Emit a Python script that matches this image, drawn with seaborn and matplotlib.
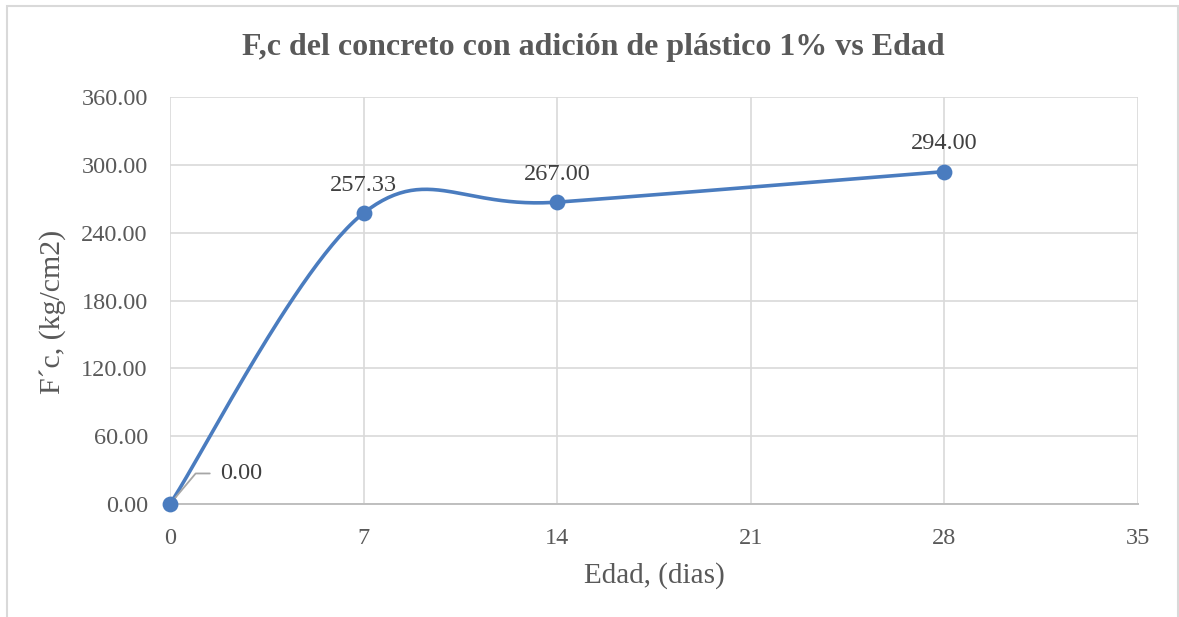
import numpy as np
import pandas as pd
import matplotlib
matplotlib.use("Agg")
import matplotlib.pyplot as plt
import seaborn as sns

# Compressive strength of concrete with 1% plastic addition
edad = [0, 7, 14, 28]
fc = [0.00, 257.33, 267.00, 294.00]
x_ticks = [0, 7, 14, 21, 28, 35]
y_ticks = [0, 60, 120, 180, 240, 300, 360]

title = "F,c del concreto con adición de plástico 1% vs Edad"
xlabel = "Edad, (dias)"
ylabel = "F´c, (kg/cm2)"

BLUE = "#4A7CBF"
TEXT = "#595959"
LABEL = "#404040"
GRID = "#D9D9D9"

sns.set_theme(style="white")
plt.rcParams["font.family"] = ["Liberation Serif", "DejaVu Serif"]

fig = plt.figure(figsize=(11.79, 6.17), dpi=100)
ax = fig.add_axes([0.1442, 0.1831, 0.8210, 0.6597])
ax.set_xlim(0, 35)
ax.set_ylim(0, 360)


def smooth_curve(xs, ys, sx, sy, n=60):
    """Bezier smoothing through the points (Excel-style), computed in display-like units."""
    px = np.asarray(xs, float) * sx
    py = np.asarray(ys, float) * sy
    pts = np.column_stack([px, py])
    out = []
    m = len(pts)
    for i in range(m - 1):
        p0 = pts[i - 1] if i > 0 else pts[i]
        p1 = pts[i]
        p2 = pts[i + 1]
        p3 = pts[i + 2] if i + 2 < m else pts[i + 1]
        c1 = p1 + (p2 - p0) / 6.0
        c2 = p2 - (p3 - p1) / 6.0
        t = np.linspace(0, 1, n)[:, None]
        seg = ((1 - t) ** 3) * p1 + 3 * ((1 - t) ** 2) * t * c1 + 3 * (1 - t) * t ** 2 * c2 + t ** 3 * p2
        out.append(seg if i == 0 else seg[1:])
    out = np.vstack(out)
    return out[:, 0] / sx, out[:, 1] / sy


sx = 968 / 35.0
sy = 407 / 360.0
cx, cy = smooth_curve(edad, fc, sx, sy)
curve = pd.DataFrame({"x": cx, "y": cy})
pts = pd.DataFrame({"Edad": edad, "Fc": fc})

sns.lineplot(data=curve, x="x", y="y", sort=False, color=BLUE, linewidth=2.6,
             ax=ax, zorder=3, estimator=None)
sns.scatterplot(data=pts, x="Edad", y="Fc", color=BLUE, s=130, edgecolor=BLUE,
                linewidth=0, ax=ax, zorder=4, clip_on=False)

# Grid and frame
ax.set_xticks(x_ticks)
ax.set_yticks(y_ticks)
ax.grid(True, color=GRID, linewidth=1.2)
ax.set_axisbelow(True)
for side in ["top", "right", "left"]:
    ax.spines[side].set_visible(False)
ax.spines["bottom"].set_color("#BFBFBF")
ax.spines["bottom"].set_linewidth(1.4)
ax.tick_params(axis="both", length=0, labelsize=17.5, labelcolor=TEXT)
ax.tick_params(axis="x", pad=17)
ax.tick_params(axis="y", pad=16)
ax.set_xticklabels([str(v) for v in x_ticks])
ax.set_yticklabels([f"{v:.2f}" for v in y_ticks])

ax.set_xlabel(xlabel, fontsize=21, color=TEXT, labelpad=10)
ax.set_ylabel(ylabel, fontsize=21.5, color=TEXT, labelpad=11)
ax.yaxis.label.set_y(0.472)
fig.text(0.5 * (243 + 944) / 1179, 1 - 48 / 617, title, ha="center", va="center",
         fontsize=23, fontweight="bold", color=TEXT)

# Data labels
for xv, yv in zip(edad, fc):
    if yv == 0:
        continue
    ax.annotate(f"{yv:.2f}", (xv, yv), xytext=(0, 12.5), textcoords="offset points",
                ha="center", va="bottom", fontsize=17.5, color=LABEL)
ax.annotate(f"{fc[0]:.2f}", (edad[0], fc[0]), xytext=(36, 22), textcoords="offset points",
            ha="left", va="center", fontsize=17.5, color=LABEL,
            arrowprops=dict(arrowstyle="-", color="#A6A6A6", lw=1.3,
                            connectionstyle="angle,angleA=0,angleB=50,rad=0",
                            shrinkA=5, shrinkB=0))

# Outer chart border
border = plt.Rectangle((7 / 1179, -0.05), (1178 - 7) / 1179, 1 - 6 / 617 + 0.05,
                       transform=fig.transFigure, fill=False, edgecolor="#D9D9D9",
                       linewidth=1.5)
fig.patches.append(border)

fig.savefig("out.png", dpi=100)
